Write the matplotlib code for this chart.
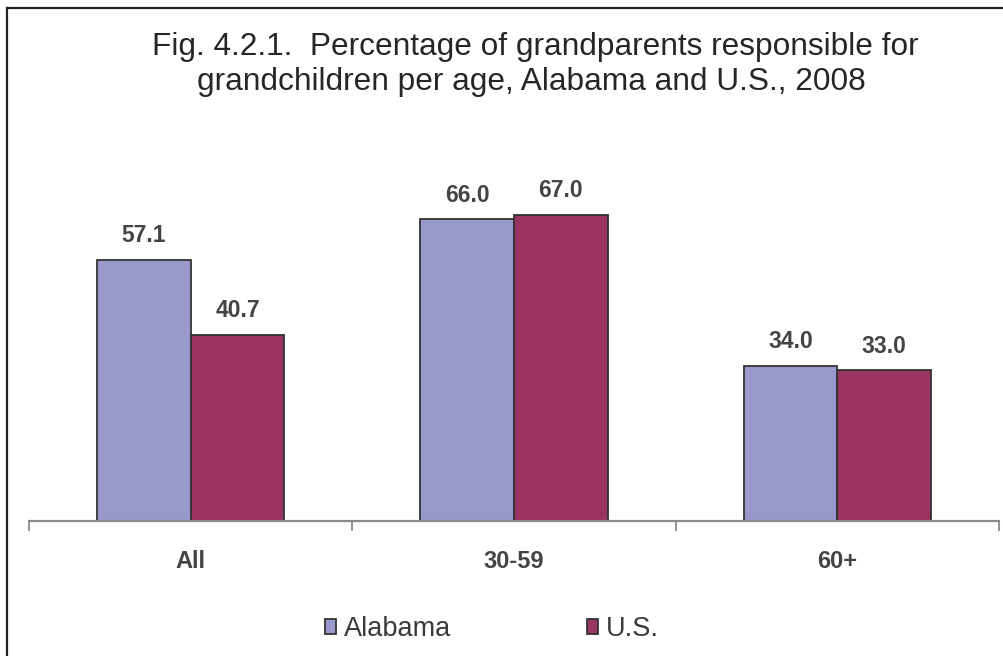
import matplotlib
matplotlib.use("Agg")
import matplotlib.pyplot as plt
from matplotlib.patches import Patch
from matplotlib.lines import Line2D
import numpy as np

plt.rcParams['font.family'] = ['Liberation Sans', 'DejaVu Sans']

# age groups and the two series
groups = ['All', '30-59', '60+']
alabama = [57.1, 66.0, 34.0]
us = [40.7, 67.0, 33.0]
series_names = ['Alabama', 'U.S.']

col_al = '#9898cc'
col_us = '#99335f'
edge = '#333333'
txt = '#262626'

fig = plt.figure(figsize=(10.04, 6.56), dpi=100)
W, H = 1004, 656

ax = fig.add_axes([29 / W, (H - 521) / H, 970 / W, 320 / H])
x = np.arange(len(groups))
bw = 0.29
b1 = ax.bar(x - bw / 2, alabama, bw, color=col_al, edgecolor=edge, linewidth=1.3)
b2 = ax.bar(x + bw / 2, us, bw, color=col_us, edgecolor=edge, linewidth=1.3)

for bars, vals in ((b1, alabama), (b2, us)):
    for r, v in zip(bars, vals):
        ax.annotate(f'{v:.1f}', (r.get_x() + r.get_width() / 2, v),
                    xytext=(0, 9), textcoords='offset points',
                    ha='center', va='bottom', fontsize=16.5, fontweight='bold',
                    color='#444444')

ax.set_xlim(-0.5, 2.5)
ax.set_ylim(0, 70)
ax.set_yticks([])
for s in ('left', 'top', 'right'):
    ax.spines[s].set_visible(False)
ax.spines['bottom'].set_color('#8a8a8a')
ax.spines['bottom'].set_linewidth(1.6)

ax.set_xticks(x)
ax.set_xticklabels(groups, fontsize=17, fontweight='bold', color='#444444')
ax.tick_params(axis='x', which='major', length=0, pad=21)
ax.set_xticks([-0.5, 0.5, 1.5, 2.5], minor=True)
ax.tick_params(axis='x', which='minor', length=7, width=1.3, color='#8a8a8a')

fig.text(535 / W, (H - 47) / H, 'Fig. 4.2.1.  Percentage of grandparents responsible for',
         ha='center', va='center', fontsize=22.8, color=txt)
fig.text(531 / W, (H - 82) / H, 'grandchildren per age, Alabama and U.S., 2008',
         ha='center', va='center', fontsize=22.8, color=txt)

handles = [Patch(facecolor=col_al, edgecolor=edge, linewidth=1.3),
           Patch(facecolor=col_us, edgecolor=edge, linewidth=1.3)]
fig.legend(handles, series_names, loc='center', bbox_to_anchor=(492 / W, (H - 629) / H),
           ncol=2, frameon=False, fontsize=19.5, handlelength=0.42, handleheight=0.5,
           handletextpad=0.3, columnspacing=5.0, labelcolor='#3a3a3a')

# frame drawn along the top and left edges
fig.add_artist(Line2D([7 / W, 1.0], [1 - 8 / H, 1 - 8 / H], transform=fig.transFigure,
                      color='#222222', linewidth=1.6))
fig.add_artist(Line2D([7 / W, 7 / W], [0, 1 - 8 / H], transform=fig.transFigure,
                      color='#222222', linewidth=1.6))

fig.savefig('out.png', dpi=100)
